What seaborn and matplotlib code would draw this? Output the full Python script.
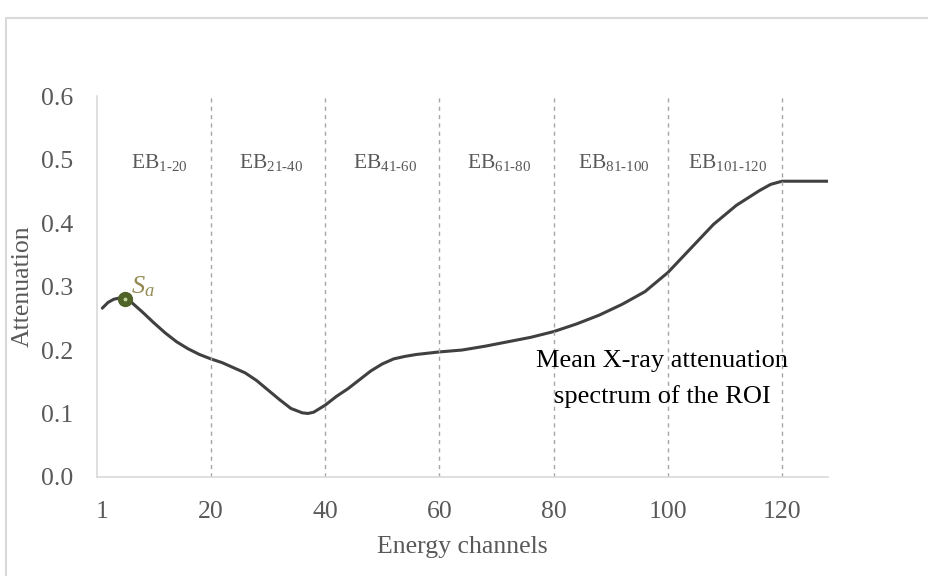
import numpy as np
import pandas as pd
import matplotlib
matplotlib.use("Agg")
import matplotlib.pyplot as plt
import seaborn as sns
from matplotlib.patches import Rectangle

# ---- data ----
channels = [1, 2, 3, 4, 5, 6, 8, 10, 12, 14, 16, 18, 20, 22, 24, 26, 28, 30, 32, 34,
            36, 37, 38, 40, 42, 44, 46, 48, 50, 52, 54, 56, 58, 60, 64, 68, 72, 76, 80,
            84, 88, 92, 96, 100, 104, 108, 112, 116, 118, 120, 124, 128]
attenuation = [0.266, 0.275, 0.280, 0.282, 0.281, 0.276, 0.260, 0.243, 0.227, 0.213,
               0.202, 0.193, 0.186, 0.180, 0.172, 0.164, 0.152, 0.137, 0.122, 0.108,
               0.101, 0.100, 0.102, 0.113, 0.127, 0.139, 0.153, 0.167, 0.178, 0.186,
               0.190, 0.193, 0.195, 0.197, 0.200, 0.206, 0.213, 0.220, 0.229, 0.241,
               0.255, 0.272, 0.292, 0.322, 0.360, 0.398, 0.428, 0.451, 0.461, 0.466,
               0.466, 0.466]
band_edges = [20, 40, 60, 80, 100, 120]
band_labels = ["1-20", "21-40", "41-60", "61-80", "81-100", "101-120"]
band_centers = [11, 30.5, 50.5, 70.5, 90.5, 110.5]
sa_x = [5]
sa_y = [0.281]
xticks = [1, 20, 40, 60, 80, 100, 120]
yticks = [0.0, 0.1, 0.2, 0.3, 0.4, 0.5, 0.6]

sns.set_theme(style="white")
plt.rcParams["font.family"] = ["Liberation Serif", "DejaVu Serif"]
plt.rcParams["mathtext.fontset"] = "custom"
plt.rcParams["mathtext.rm"] = "Liberation Serif"
plt.rcParams["mathtext.it"] = "Liberation Serif:italic"

GRAY = "#595959"

fig = plt.figure(figsize=(9.29, 5.76), dpi=100)
ax = fig.add_axes([0.104, 0.172, 0.787, 0.661])

# figure border
fig.patches.append(Rectangle((0.0065, -0.05), 1.2, 1.019, transform=fig.transFigure,
                             fill=False, edgecolor="#d9d9d9", linewidth=1.5))

df = pd.DataFrame({"channel": channels, "attenuation": attenuation})
sns.lineplot(data=df, x="channel", y="attenuation", ax=ax, color="#404040",
             linewidth=2.2)

for e in band_edges:
    ax.axvline(e, ymin=0, ymax=1, color="#a6a6a6", linestyle=(0, (3, 3)), linewidth=1)

for c, lab in zip(band_centers, band_labels):
    ax.text(c, 0.495, "EB$_{\\mathrm{" + lab.replace("-", "\u2010") + "}}$",
            ha="center", va="center", fontsize=15.5, color=GRAY)

ax.scatter(sa_x, sa_y, s=100, color="#4f6228", zorder=5, edgecolors="#4f6228")
ax.scatter(sa_x, sa_y, s=3, color="#c4d79b", zorder=6)
ax.text(sa_x[0] + 1.0, sa_y[0] + 0.0, "$S_a$", fontsize=19, color="#948a54",
        ha="left", va="bottom")

ax.text(99, 0.183, "Mean X-ray attenuation", ha="center", va="center",
        fontsize=19, color="black")
ax.text(99, 0.127, "spectrum of the ROI", ha="center", va="center",
        fontsize=19, color="black")

ax.set_xlim(0, 128)
ax.set_ylim(0, 0.6)
ax.set_xticks(xticks)
ax.set_yticks(yticks)
ax.set_yticklabels([f"{v:.1f}" for v in yticks])
ax.tick_params(axis="both", length=0, labelsize=18.5, labelcolor=GRAY)
ax.tick_params(axis="y", pad=17)
ax.tick_params(axis="x", pad=17)
ax.set_xlabel("Energy channels", fontsize=18.5, color=GRAY, labelpad=10)
ax.set_ylabel("Attenuation", fontsize=18.5, color=GRAY, labelpad=5)

for s in ["top", "right"]:
    ax.spines[s].set_visible(False)
for s in ["left", "bottom"]:
    ax.spines[s].set_color("#d9d9d9")
    ax.spines[s].set_linewidth(1.2)
ax.grid(False)

fig.savefig("out.png", dpi=100)
